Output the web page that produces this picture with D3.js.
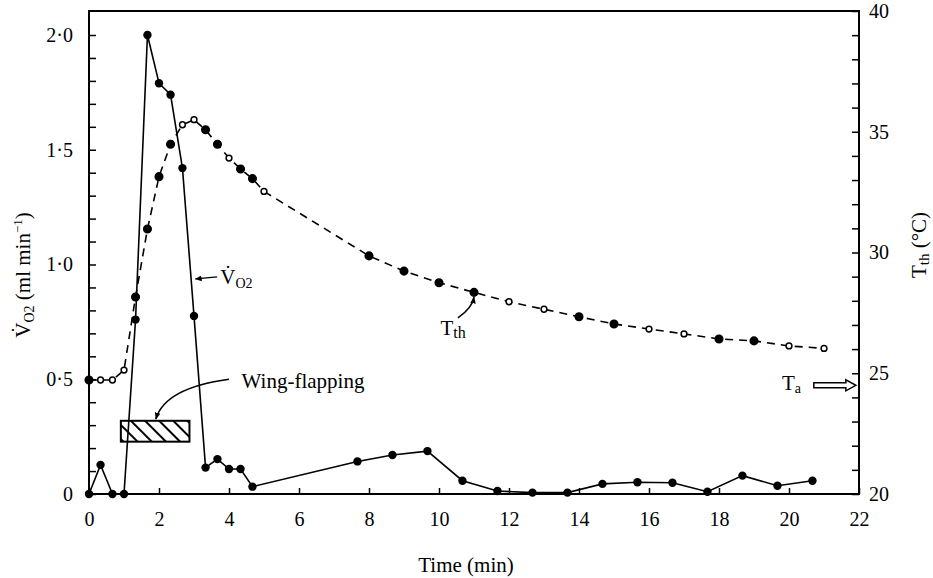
<!DOCTYPE html>
<html>
<head>
<meta charset="utf-8">
<script src="https://cdn.jsdelivr.net/npm/d3@7"></script>
<style>
body { margin: 0; background: #fff; }
svg { display: block; font-family: "Liberation Serif", "Times New Roman", serif; }
</style>
</head>
<body>
<svg width="933" height="578"></svg>
<script>
// oxygen uptake, ml/min (solid line)
vo2Time = [0, 0.33, 0.67, 1.0, 1.33, 1.67, 2.0, 2.33, 2.67, 3.0, 3.33, 3.67, 4.0, 4.33, 4.67,
  7.67, 8.67, 9.67, 10.67, 11.67, 12.67, 13.67, 14.67, 15.67, 16.67, 17.67, 18.67, 19.67, 20.67];
vo2Value = [0, 0.127, 0, 0, 0.76, 2.0, 1.79, 1.74, 1.42, 0.776, 0.115, 0.152, 0.109, 0.109, 0.032,
  0.142, 0.17, 0.187, 0.058, 0.013, 0.006, 0.006, 0.044, 0.051, 0.049, 0.01, 0.08, 0.036, 0.058];

// thoracic temperature, deg C (dashed line); 1 = open circle
tthTime = [0, 0.33, 0.67, 1.0, 1.33, 1.67, 2.0, 2.33, 2.67, 3.0, 3.33, 3.67, 4.0, 4.33, 4.67, 5.0,
  8, 9, 10, 11, 12, 13, 14, 15, 16, 17, 18, 19, 20, 21];
tthValue = [24.72, 24.72, 24.72, 25.13, 28.16, 30.97, 33.14, 34.48, 35.29, 35.5, 35.08, 34.48, 33.91, 33.46, 33.06, 32.53,
  29.86, 29.23, 28.75, 28.35, 27.96, 27.65, 27.34, 27.04, 26.83, 26.63, 26.42, 26.34, 26.13, 26.03];
tthOpen = [0, 1, 1, 1, 0, 0, 0, 0, 1, 1, 0, 0, 1, 0, 0, 1,
  0, 0, 0, 0, 1, 1, 0, 0, 1, 1, 0, 0, 1, 1];

// ambient temperature and wing-flapping period
ambientT = 24.5;
flapStart = 0.91, flapEnd = 2.87;

xTicks = d3.range(0, 23, 2);
leftTicks = d3.range(0, 21).map(d => d / 10);
rightTicks = d3.range(20, 41);

const pLeft = 89, pRight = 859, pTop = 11, pBottom = 494;

x = d3.scaleLinear().domain([0, 22]).range([pLeft, pRight]);
yL = d3.scaleLinear().domain([0, 2]).range([pBottom, 35]);
yR = d3.scaleLinear().domain([20, 40]).range([pBottom, pTop]);

vo2 = vo2Time.map((t, i) => ({t: t, v: vo2Value[i]}));
tth = tthTime.map((t, i) => ({t: t, v: tthValue[i], open: tthOpen[i]}));

const svg = d3.select("svg");
const defs = svg.append("defs");

defs.append("pattern")
    .attr("id", "hatch")
    .attr("patternUnits", "userSpaceOnUse")
    .attr("width", 10).attr("height", 10)
    .attr("patternTransform", "rotate(-45)")
  .append("line")
    .attr("x1", 5).attr("y1", 0).attr("x2", 5).attr("y2", 10)
    .attr("stroke", "#000").attr("stroke-width", 2);

defs.append("marker")
    .attr("id", "head")
    .attr("viewBox", "0 0 10 10")
    .attr("refX", 9).attr("refY", 5)
    .attr("markerWidth", 7).attr("markerHeight", 7)
    .attr("markerUnits", "userSpaceOnUse")
    .attr("orient", "auto")
  .append("path")
    .attr("d", "M0,1L10,5L0,9Z")
    .attr("fill", "#000");

// axes (ticks point inwards)
function styleAxis(g) {
  g.select(".domain").remove();
  g.attr("font-family", null).attr("font-size", "20px");
  g.selectAll(".tick line").attr("stroke-width", 1.5);
}

svg.append("g")
    .attr("transform", `translate(0,${pBottom})`)
    .call(d3.axisBottom(x).tickValues(xTicks).tickSize(-6).tickSizeOuter(0).tickPadding(18))
    .call(styleAxis);

svg.append("g")
    .attr("transform", `translate(${pLeft},0)`)
    .call(d3.axisLeft(yL).tickValues(leftTicks).tickSize(-7).tickSizeOuter(0).tickPadding(16)
      .tickFormat(d => Math.round(d * 10) % 5 ? "" : (d === 0 ? "0" : d3.format(".1f")(d).replace(".", "·"))))
    .call(styleAxis);

svg.append("g")
    .attr("transform", `translate(${pRight},0)`)
    .call(d3.axisRight(yR).tickValues(rightTicks).tickSize(-7).tickSizeOuter(0).tickPadding(10)
      .tickFormat(d => d % 5 ? "" : d))
    .call(styleAxis);

svg.append("rect")
    .attr("x", pLeft).attr("y", pTop)
    .attr("width", pRight - pLeft).attr("height", pBottom - pTop)
    .attr("fill", "none").attr("stroke", "#000").attr("stroke-width", 2);

// wing-flapping bar
svg.append("rect")
    .attr("x", x(flapStart)).attr("y", yL(0.319))
    .attr("width", x(flapEnd) - x(flapStart)).attr("height", yL(0.228) - yL(0.319))
    .attr("fill", "url(#hatch)").attr("stroke", "#000").attr("stroke-width", 2);

// Tth dashed curve
svg.append("path")
    .datum(tth)
    .attr("fill", "none").attr("stroke", "#000").attr("stroke-width", 1.6)
    .attr("stroke-dasharray", "8,6")
    .attr("d", d3.line().x(d => x(d.t)).y(d => yR(d.v)));

// VO2 solid curve
svg.append("path")
    .datum(vo2)
    .attr("fill", "none").attr("stroke", "#000").attr("stroke-width", 1.6)
    .attr("d", d3.line().x(d => x(d.t)).y(d => yL(d.v)));

svg.append("g")
  .selectAll("circle")
  .data(vo2)
  .join("circle")
    .attr("cx", d => x(d.t)).attr("cy", d => yL(d.v))
    .attr("r", 4.2).attr("fill", "#000");

svg.append("g")
  .selectAll("circle")
  .data(tth)
  .join("circle")
    .attr("cx", d => x(d.t)).attr("cy", d => yR(d.v))
    .attr("r", d => d.open ? 2.9 : 3.8)
    .attr("fill", d => d.open ? "#fff" : "#000")
    .attr("stroke", "#000").attr("stroke-width", 1.5);

// annotations
const note = svg.append("g").attr("font-size", "21px");

// VO2 label with leader
note.append("line")
    .attr("x1", x(3.66)).attr("y1", yL(0.946))
    .attr("x2", x(3.04)).attr("y2", yL(0.937))
    .attr("stroke", "#000").attr("stroke-width", 1.3)
    .attr("marker-end", "url(#head)");
vt = note.append("text").attr("x", x(3.75)).attr("y", yL(0.915));
vt.append("tspan").text("V\u0307");
vt.append("tspan").attr("font-size", "14px").attr("dy", 4).text("O2");

// Tth label with curved leader
note.append("path")
    .attr("d", `M${x(10.54)},${yR(27.29)}Q${x(10.95)},${yR(27.7)} ${x(11.0)},${yR(28.15)}`)
    .attr("fill", "none").attr("stroke", "#000").attr("stroke-width", 1.5)
    .attr("marker-end", "url(#head)");
tt = note.append("text").attr("x", x(10.04)).attr("y", yR(26.6));
tt.append("tspan").text("T");
tt.append("tspan").attr("font-size", "16px").attr("dy", 3).text("th");

// Wing-flapping label with curved leader
note.append("text").attr("x", x(4.36)).attr("y", yL(0.46)).text("Wing-flapping");
note.append("path")
    .attr("d", `M${x(4.0)},${yL(0.5)}Q${x(2.17)},${yL(0.462)} ${x(1.91)},${yL(0.327)}`)
    .attr("fill", "none").attr("stroke", "#000").attr("stroke-width", 1.5)
    .attr("marker-end", "url(#head)");

// ambient temperature arrow
ta = note.append("text").attr("x", x(19.8)).attr("y", yR(24.3));
ta.append("tspan").text("T");
ta.append("tspan").attr("font-size", "14px").attr("dy", 3).text("a");
ax0 = x(20.71), ax1 = x(21.91), ay = yR(ambientT);
note.append("path")
    .attr("d", `M${ax0},${ay - 2.5}H${ax1 - 10}V${ay - 5.5}L${ax1},${ay}L${ax1 - 10},${ay + 5.5}V${ay + 2.5}H${ax0}Z`)
    .attr("fill", "#fff").attr("stroke", "#000").attr("stroke-width", 1.5);

// axis titles
svg.append("text")
    .attr("x", (pLeft + pRight) / 2 - 8).attr("y", 572)
    .attr("text-anchor", "middle").attr("font-size", "21px")
    .text("Time (min)");

lt = svg.append("text")
    .attr("transform", "translate(30,275) rotate(-90)")
    .attr("text-anchor", "middle").attr("font-size", "21px");
lt.append("tspan").text("V\u0307");
lt.append("tspan").attr("font-size", "14px").attr("dy", 4).text("O2");
lt.append("tspan").attr("dy", -4).text(" (ml min");
lt.append("tspan").attr("font-size", "13px").attr("dy", -8).text("\u22121");
lt.append("tspan").attr("dy", 8).text(")");

rt = svg.append("text")
    .attr("transform", "translate(926,245) rotate(-90)")
    .attr("text-anchor", "middle").attr("font-size", "21px");
rt.append("tspan").text("T");
rt.append("tspan").attr("font-size", "15px").attr("dy", 3).text("th");
rt.append("tspan").attr("dy", -3).text(" (\u00b0C)");
</script>
</body>
</html>
